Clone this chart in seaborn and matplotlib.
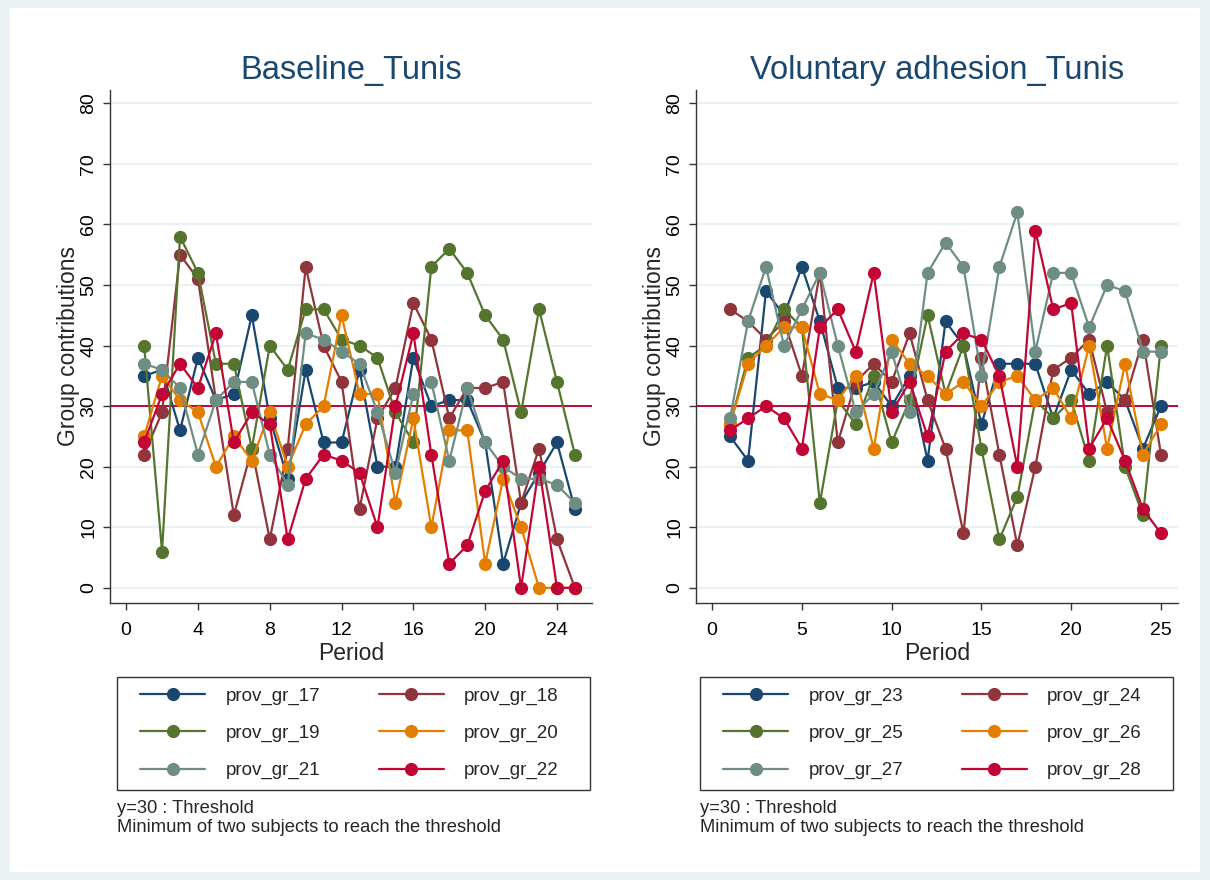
import numpy as np
import pandas as pd
import matplotlib
matplotlib.use('Agg')
import matplotlib.pyplot as plt
from matplotlib.lines import Line2D
from matplotlib.patches import Rectangle
import seaborn as sns

sns.set_theme(style='white')
plt.rcParams['font.family'] = ['Liberation Sans', 'DejaVu Sans']

# data
periods = list(range(1, 26))

base_groups = ['prov_gr_17', 'prov_gr_18', 'prov_gr_19', 'prov_gr_20', 'prov_gr_21', 'prov_gr_22']
gr_17 = [35, 36, 26, 38, 31, 32, 45, 28, 18, 36, 24, 24, 36, 20, 20, 38, 30, 31, 31, 24, 4, 14, 19, 24, 13]
gr_18 = [22, 29, 55, 51, 31, 12, 23, 8, 23, 53, 40, 34, 13, 28, 33, 47, 41, 28, 33, 33, 34, 14, 23, 8, 0]
gr_19 = [40, 6, 58, 52, 37, 37, 23, 40, 36, 46, 46, 41, 40, 38, 29, 24, 53, 56, 52, 45, 41, 29, 46, 34, 22]
gr_20 = [25, 35, 31, 29, 20, 25, 21, 29, 20, 27, 30, 45, 32, 32, 14, 28, 10, 26, 26, 4, 18, 10, 0, 0, 0]
gr_21 = [37, 36, 33, 22, 31, 34, 34, 22, 17, 42, 41, 39, 37, 29, 19, 32, 34, 21, 33, 24, 20, 18, 18, 17, 14]
gr_22 = [24, 32, 37, 33, 42, 24, 29, 27, 8, 18, 22, 21, 19, 10, 30, 42, 22, 4, 7, 16, 21, 0, 20, 0, 0]

vol_groups = ['prov_gr_23', 'prov_gr_24', 'prov_gr_25', 'prov_gr_26', 'prov_gr_27', 'prov_gr_28']
gr_23 = [25, 21, 49, 45, 53, 44, 33, 33, 34, 30, 35, 21, 44, 40, 27, 37, 37, 37, 28, 36, 32, 34, 31, 23, 30]
gr_24 = [46, 44, 41, 44, 35, 52, 24, 34, 37, 34, 42, 31, 23, 9, 38, 22, 7, 20, 36, 38, 41, 29, 31, 41, 22]
gr_25 = [27, 38, 40, 46, 43, 14, 31, 27, 35, 24, 31, 45, 32, 40, 23, 8, 15, 31, 28, 31, 21, 40, 20, 12, 40]
gr_26 = [27, 37, 40, 43, 43, 32, 31, 35, 23, 41, 37, 35, 32, 34, 30, 34, 35, 31, 33, 28, 40, 23, 37, 22, 27]
gr_27 = [28, 44, 53, 40, 46, 52, 40, 29, 32, 39, 29, 52, 57, 53, 35, 53, 62, 39, 52, 52, 43, 50, 49, 39, 39]
gr_28 = [26, 28, 30, 28, 23, 43, 46, 39, 52, 29, 34, 25, 39, 42, 41, 35, 20, 59, 46, 47, 23, 28, 21, 13, 9]

threshold = 30

# stata s2color look
colors = ['#1A476F', '#90353B', '#55752F', '#E37E00', '#6E8E84', '#C10534']
bg = '#EAF2F3'
navy_title = '#1A476F'

fig = plt.figure(figsize=(12.1, 8.8), dpi=100, facecolor=bg)
W, H = 1210, 880

# white graph region inside a light outer margin
fig.patches.append(Rectangle((10 / W, 8 / H), 1190 / W, 864 / H, transform=fig.transFigure,
                             facecolor='white', edgecolor='none', zorder=-10))


def panel(left_px, title, groups, series, xticks):
    ax = fig.add_axes([left_px / W, 1 - 603 / H, 482 / W, 513 / H])
    df = pd.DataFrame({
        'Period': periods * len(groups),
        'contrib': sum(series, []),
        'group': np.repeat(groups, len(periods)),
    })
    for yv in range(0, 90, 10):
        ax.axhline(yv, color=bg, lw=1.6, zorder=0)
    ax.axhline(threshold, color='#C10534', lw=1.4, zorder=1)
    sns.lineplot(data=df, x='Period', y='contrib', hue='group', hue_order=groups,
                 palette=colors, marker='o', markersize=9.5, markeredgewidth=0,
                 linewidth=1.6, legend=False, ax=ax, zorder=3)
    ax.set_facecolor('white')
    ax.set_xlim(-0.9, 25.95)
    ax.set_ylim(-2.5, 82.2)
    ax.set_xticks(xticks)
    ax.set_yticks(range(0, 90, 10))
    ax.set_yticklabels([str(v) for v in range(0, 90, 10)], rotation=90, va='center')
    ax.tick_params(axis='both', direction='out', length=5, width=1, color='#333333',
                   labelsize=14, labelcolor='black', left=True, bottom=True)
    ax.tick_params(axis='x', pad=9)
    ax.tick_params(axis='y', pad=4)
    for s in ['top', 'right']:
        ax.spines[s].set_visible(False)
    for s in ['left', 'bottom']:
        ax.spines[s].set_color('#333333')
        ax.spines[s].set_linewidth(1)
    ax.set_xlabel('Period', fontsize=16.5, labelpad=2)
    ax.set_ylabel('Group contributions', fontsize=16.5, labelpad=0)
    ax.set_title(title, fontsize=23.5, color=navy_title, pad=8)
    return ax


ax1 = panel(110, 'Baseline_Tunis', base_groups,
            [gr_17, gr_18, gr_19, gr_20, gr_21, gr_22], [0, 4, 8, 12, 16, 20, 24])
ax2 = panel(696, 'Voluntary adhesion_Tunis', vol_groups,
            [gr_23, gr_24, gr_25, gr_26, gr_27, gr_28], [0, 5, 10, 15, 20, 25])

order = [0, 2, 4, 1, 3, 5]
for left_px, groups in [(117, base_groups), (700, vol_groups)]:
    handles = [Line2D([], [], color=colors[i], marker='o', markersize=9.5,
                      markeredgewidth=0, lw=1.6) for i in order]
    labels = [groups[i] for i in order]
    fig.patches.append(Rectangle((left_px / W, 1 - 790 / H), 473 / W, 113 / H,
                                 transform=fig.transFigure, facecolor='white',
                                 edgecolor='#333333', linewidth=1, zorder=1))
    fig.legend(handles, labels, ncol=2, loc='center left', mode='expand',
               bbox_to_anchor=((left_px + 23) / W, 1 - 790 / H, 419 / W, 113 / H),
               fontsize=13.5, handlelength=3.47, handletextpad=1.1,
               labelspacing=1.06, borderpad=0, borderaxespad=0,
               columnspacing=3.0, frameon=False)
    fig.text(left_px / W, 1 - 808 / H, 'y=30 : Threshold', fontsize=13.2, va='center')
    fig.text(left_px / W, 1 - 827 / H, 'Minimum of two subjects to reach the threshold',
             fontsize=13.2, va='center')

fig.savefig('out.png', dpi=100, facecolor=fig.get_facecolor())
